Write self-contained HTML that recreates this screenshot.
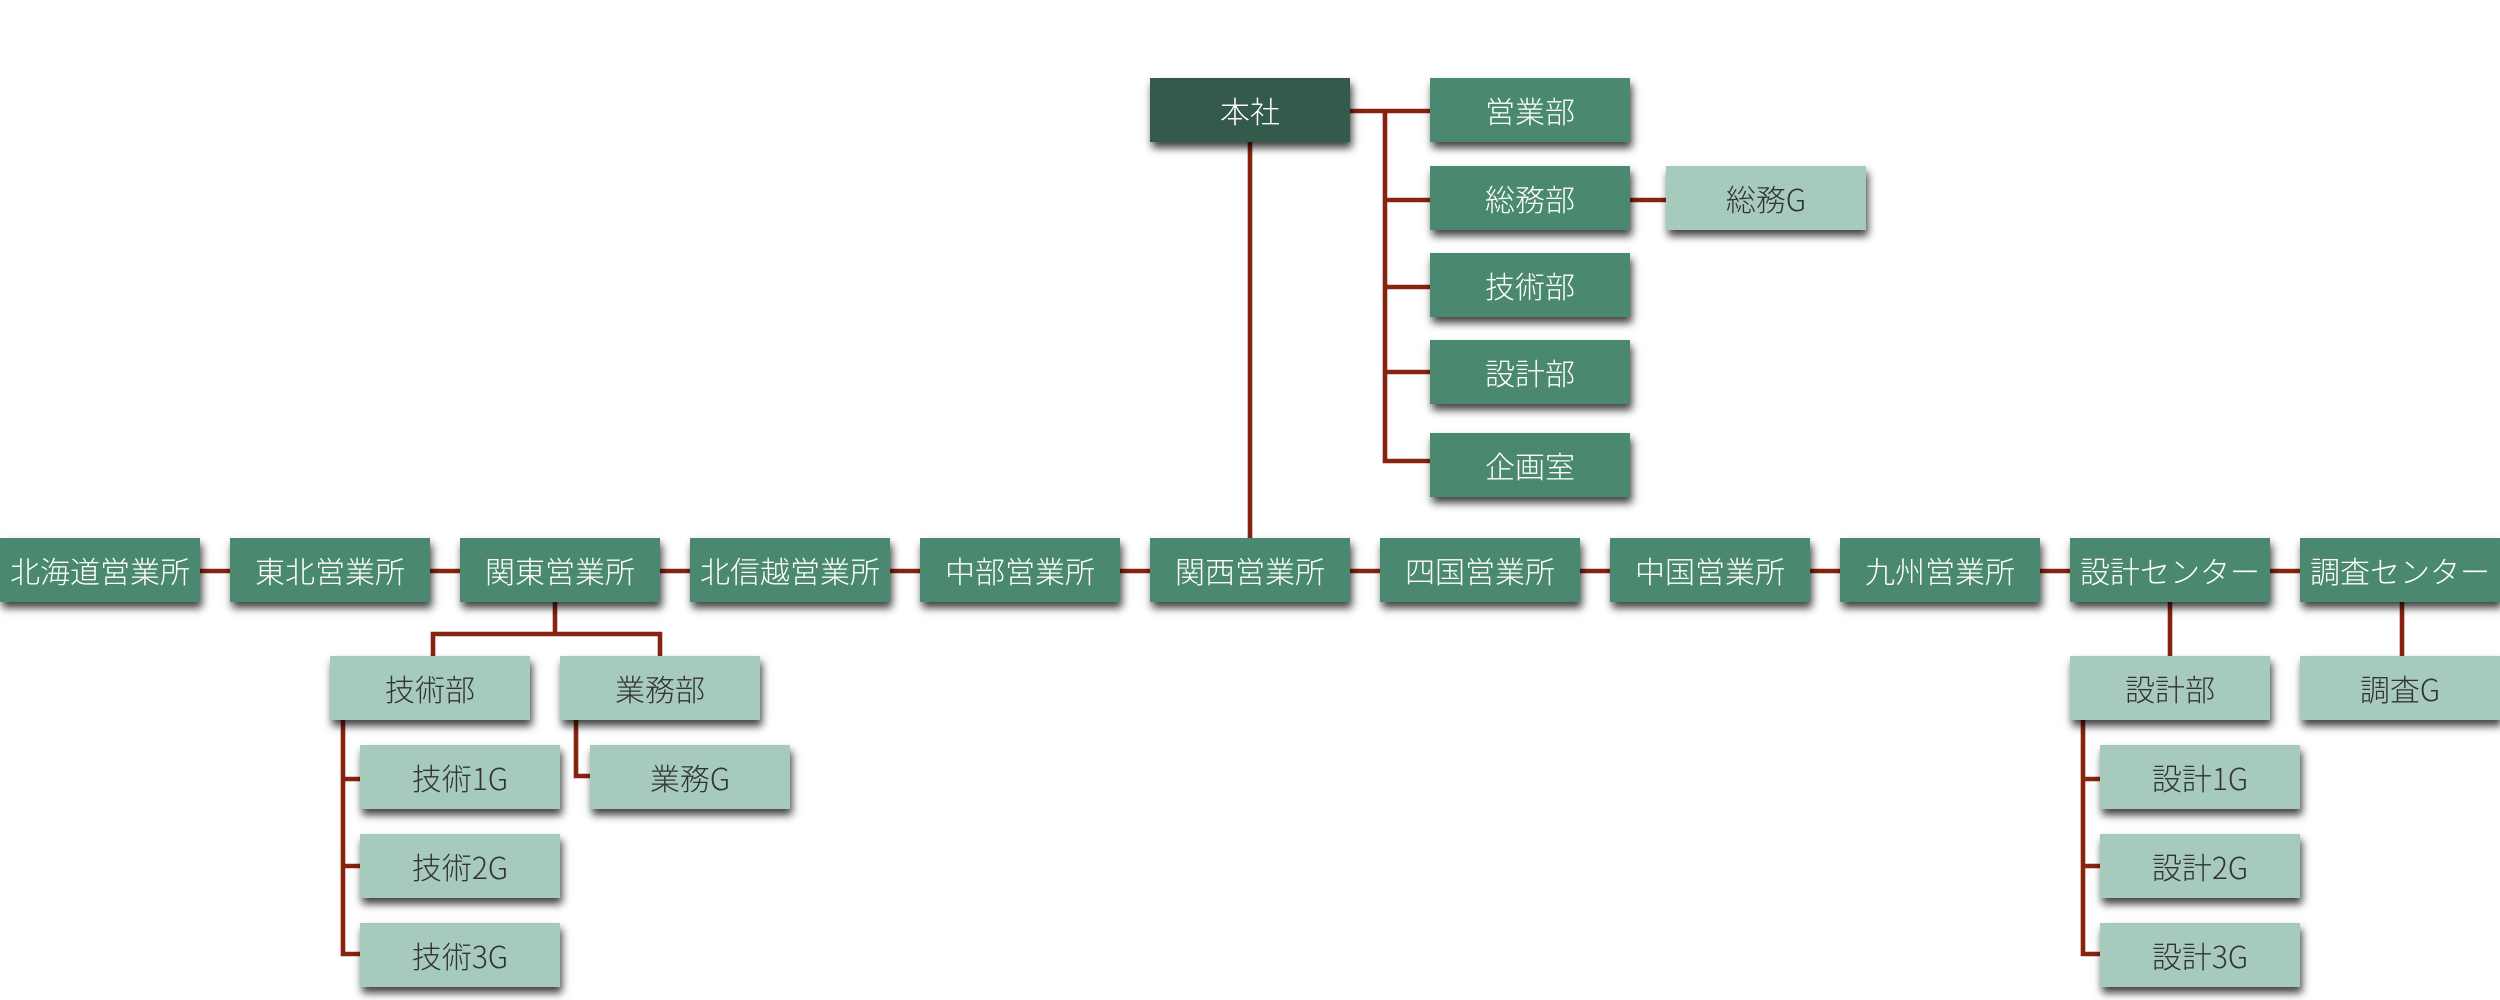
<!DOCTYPE html>
<html>
<head>
<meta charset="utf-8">
<style>
  html,body{margin:0;padding:0;background:#ffffff;}
  body{width:2500px;height:1000px;position:relative;overflow:hidden;
       font-family:"Liberation Sans","Noto Sans CJK JP",sans-serif;}
  svg.lines{position:absolute;left:0;top:0;}
  .b{position:absolute;width:200px;height:64px;line-height:64px;text-align:center;
     font-size:30px;font-weight:300;white-space:nowrap;box-shadow:2px 6px 8px rgba(0,0,0,0.75);
     font-family:"Noto Sans CJK JP","Liberation Sans",sans-serif;}
  .d{background:#335a4a;color:#ffffff;}
  .m{background:#4b8870;color:#ffffff;}
  .l{background:#a6cbbc;color:#333333;}
</style>
</head>
<body>
<svg class="lines" width="2500" height="1000" viewBox="0 0 2500 1000">
  <g stroke="#862410" stroke-width="4.6" fill="none" stroke-linecap="butt">
    <!-- main row connector -->
    <line x1="100" y1="571" x2="2400" y2="571"/>
    <!-- trunk -->
    <line x1="1250" y1="140" x2="1250" y2="540"/>
    <!-- HQ departments -->
    <line x1="1348" y1="111" x2="1432" y2="111"/>
    <polyline points="1385,109 1385,461 1432,461"/>
    <line x1="1385" y1="200" x2="1432" y2="200"/>
    <line x1="1385" y1="287" x2="1432" y2="287"/>
    <line x1="1385" y1="372" x2="1432" y2="372"/>
    <line x1="1628" y1="200" x2="1668" y2="200"/>
    <!-- Kanto subtree -->
    <line x1="555" y1="600" x2="555" y2="634"/>
    <polyline points="433,658 433,634 660,634 660,658"/>
    <polyline points="343,718 343,954 362,954"/>
    <line x1="343" y1="779" x2="362" y2="779"/>
    <line x1="343" y1="866" x2="362" y2="866"/>
    <polyline points="576,718 576,776 592,776"/>
    <!-- Design center subtree -->
    <line x1="2170" y1="600" x2="2170" y2="658"/>
    <polyline points="2083,718 2083,954 2102,954"/>
    <line x1="2083" y1="779" x2="2102" y2="779"/>
    <line x1="2083" y1="866" x2="2102" y2="866"/>
    <!-- Survey center -->
    <line x1="2402" y1="600" x2="2402" y2="658"/>
  </g>
</svg>

<!-- HQ -->
<div class="b d" style="left:1150px;top:78px;">本社</div>
<div class="b m" style="left:1430px;top:78px;">営業部</div>
<div class="b m" style="left:1430px;top:166px;">総務部</div>
<div class="b l" style="left:1666px;top:166px;">総務G</div>
<div class="b m" style="left:1430px;top:253px;">技術部</div>
<div class="b m" style="left:1430px;top:340px;">設計部</div>
<div class="b m" style="left:1430px;top:433px;">企画室</div>

<!-- main row -->
<div class="b m" style="left:0px;top:538px;">北海道営業所</div>
<div class="b m" style="left:230px;top:538px;">東北営業所</div>
<div class="b m" style="left:460px;top:538px;">関東営業所</div>
<div class="b m" style="left:690px;top:538px;">北信越営業所</div>
<div class="b m" style="left:920px;top:538px;">中部営業所</div>
<div class="b m" style="left:1150px;top:538px;">関西営業所</div>
<div class="b m" style="left:1380px;top:538px;">四国営業所</div>
<div class="b m" style="left:1610px;top:538px;">中国営業所</div>
<div class="b m" style="left:1840px;top:538px;">九州営業所</div>
<div class="b m" style="left:2070px;top:538px;">設計センター</div>
<div class="b m" style="left:2300px;top:538px;">調査センター</div>

<!-- Kanto subtree -->
<div class="b l" style="left:330px;top:656px;">技術部</div>
<div class="b l" style="left:560px;top:656px;">業務部</div>
<div class="b l" style="left:360px;top:745px;">技術1G</div>
<div class="b l" style="left:360px;top:834px;">技術2G</div>
<div class="b l" style="left:360px;top:923px;">技術3G</div>
<div class="b l" style="left:590px;top:745px;">業務G</div>

<!-- Design center subtree -->
<div class="b l" style="left:2070px;top:656px;">設計部</div>
<div class="b l" style="left:2100px;top:745px;">設計1G</div>
<div class="b l" style="left:2100px;top:834px;">設計2G</div>
<div class="b l" style="left:2100px;top:923px;">設計3G</div>

<!-- Survey center -->
<div class="b l" style="left:2300px;top:656px;">調査G</div>
</body>
</html>
